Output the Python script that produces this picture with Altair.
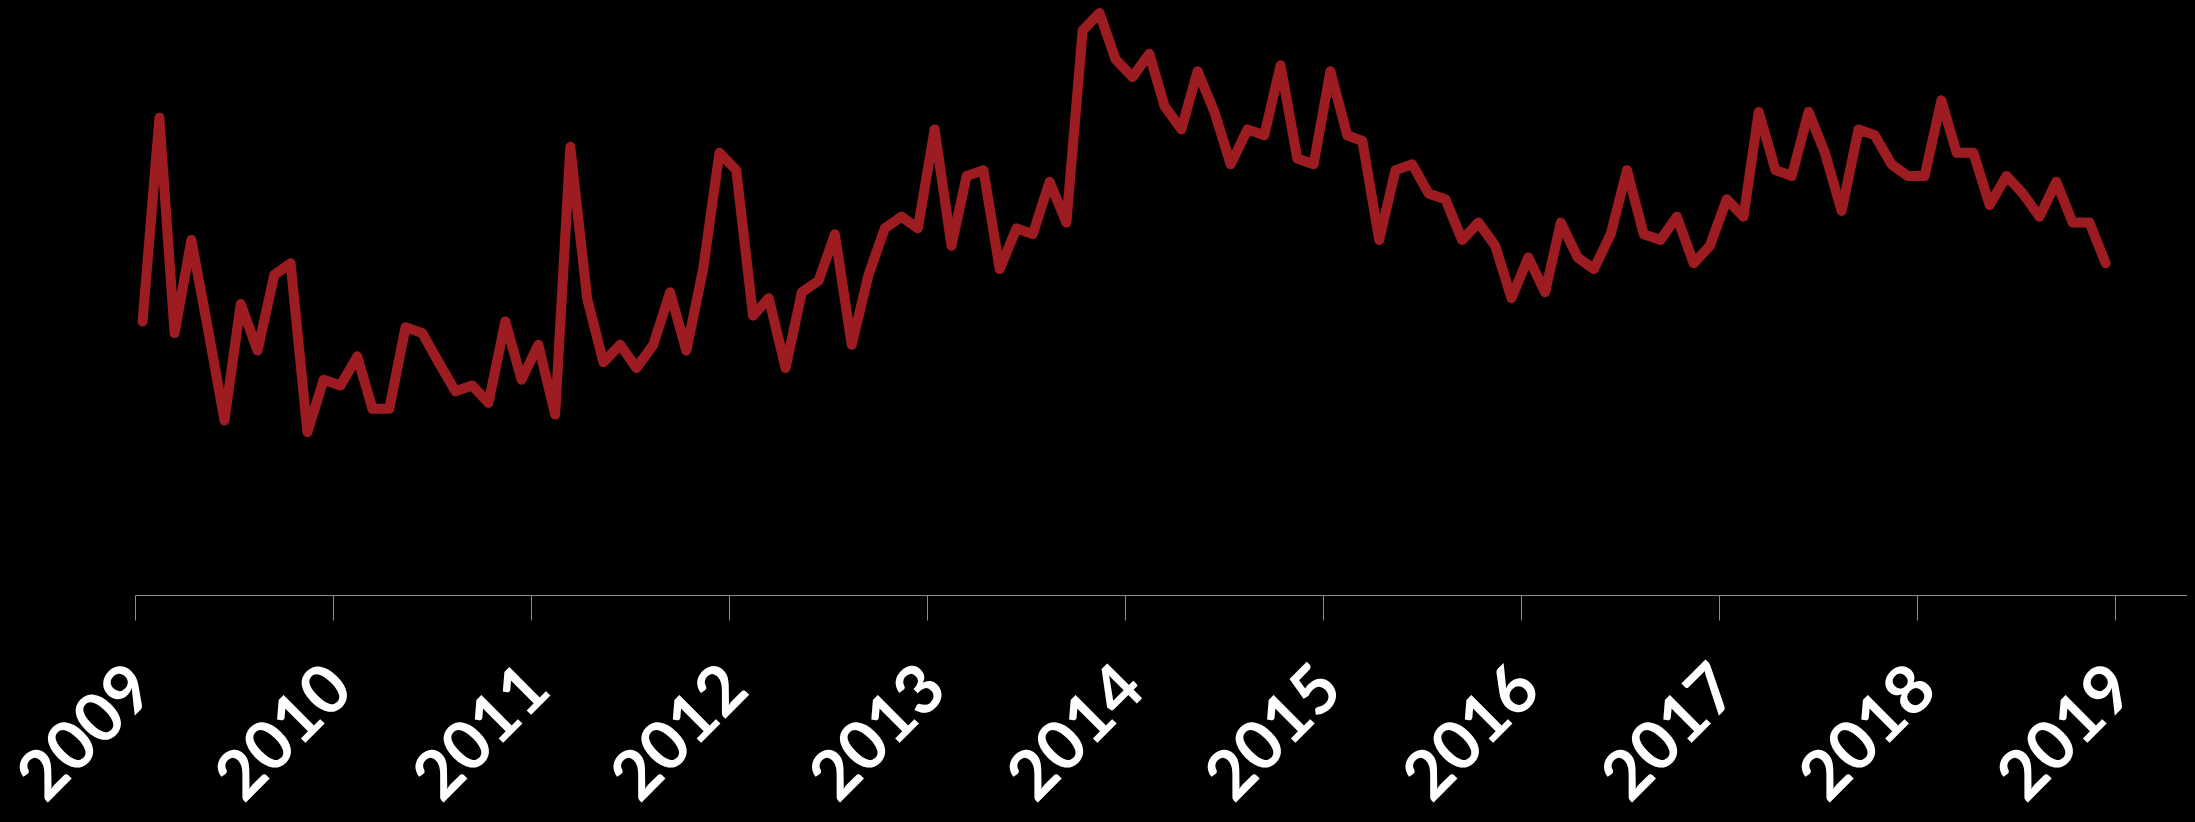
import altair as alt
import pandas as pd

# Monthly search-interest index (0-100), Jan 2009 .. Dec 2018
v2009 = [47, 82, 45, 61, 46, 30, 50, 42, 55, 57, 28, 37]
v2010 = [36, 41, 32, 32, 46, 45, 40, 35, 36, 33, 47, 37]
v2011 = [43, 31, 77, 51, 40, 43, 39, 43, 52, 42, 56, 76]
v2012 = [73, 48, 51, 39, 52, 54, 62, 43, 55, 63, 65, 63]
v2013 = [80, 60, 72, 73, 56, 63, 62, 71, 64, 97, 100, 92]
v2014 = [89, 93, 84, 80, 90, 83, 74, 80, 79, 91, 75, 74]
v2015 = [90, 79, 78, 61, 73, 74, 69, 68, 61, 64, 60, 51]
v2016 = [58, 52, 64, 58, 56, 62, 73, 62, 61, 65, 57, 60]
v2017 = [68, 65, 83, 73, 72, 83, 76, 66, 80, 79, 74, 72]
v2018 = [72, 85, 76, 76, 67, 72, 69, 65, 71, 64, 64, 57]

years = list(range(2009, 2019))
series = [v2009, v2010, v2011, v2012, v2013, v2014, v2015, v2016, v2017, v2018]
tick_years = list(range(2009, 2020))

rows = []
for yr, vals in zip(years, series):
    for m, v in enumerate(vals, start=1):
        rows.append({"date": f"{yr}-{m:02d}-15T00:00:00Z", "value": v})
df = pd.DataFrame(rows)

line = alt.Chart(df).mark_line(
    color="#9c1c21", strokeWidth=10, strokeCap="round", strokeJoin="round"
).encode(
    x=alt.X(
        "date:T",
        scale=alt.Scale(type="utc", domain=[alt.DateTime(year=2009, month=1, date=1, utc=True),
                                            alt.DateTime(year=2019, month=5, date=14, utc=True)]),
        axis=alt.Axis(
            title=None,
            values=[alt.DateTime(year=y, month=1, date=1, utc=True) for y in tick_years],
            format="%Y", formatType="utc",
            labelAngle=-45, labelAlign="right", labelBaseline="middle",
            labelFont="Lato", labelFontWeight="bold", labelFontSize=68,
            labelColor="white", labelPadding=58, labelOffset=8,
            labelFlush=False, labelOverlap=False, labelBound=False,
            tickSize=25, tickColor="#8a8a8a", tickWidth=1,
            domainColor="#8a8a8a", domainWidth=1, grid=False,
        ),
    ),
    y=alt.Y("value:Q", scale=alt.Scale(domain=[0, 100], nice=False, zero=True), axis=None),
)

chart = line.properties(
    width=2052, height=582,
    background="black",
    autosize=alt.AutoSizeParams(type="none"),
    padding={"left": 127, "top": 5, "right": 0, "bottom": 219},
).configure_view(stroke=None)

chart.save("out.html", embed_options={"renderer": "svg", "actions": False})

# page behind the chart is black in the reference as well
try:
    with open("out.html", encoding="utf-8") as f:
        html = f.read()
    html = html.replace("<head>", "<head><style>html,body{background:#000;}</style>", 1)
    with open("out.html", "w", encoding="utf-8") as f:
        f.write(html)
except Exception:
    pass
